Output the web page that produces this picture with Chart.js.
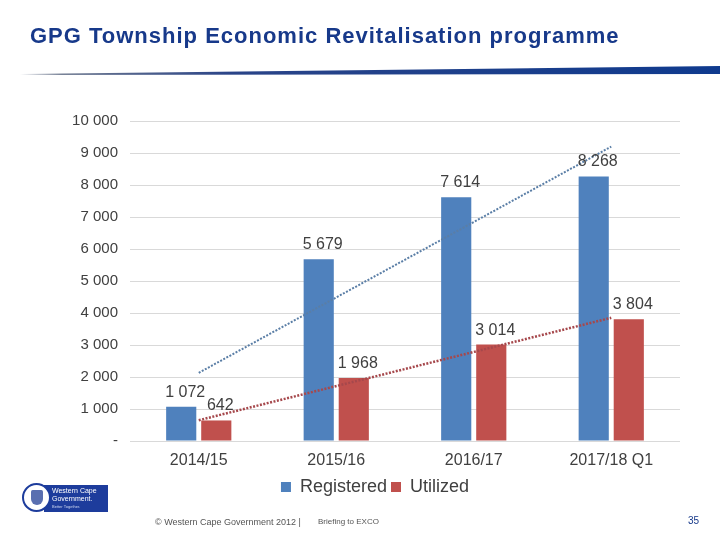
<!DOCTYPE html>
<html>
<head>
<meta charset="utf-8">
<script src="https://cdn.jsdelivr.net/npm/chart.js@4"></script>
<style>
  html, body { margin:0; padding:0; background:#fff; }
  #wrap { position:relative; width:720px; height:540px; overflow:hidden; font-family:"Liberation Sans", Arial, sans-serif; }
  #chart { position:absolute; left:0; top:0; }
  #title { position:absolute; left:30px; top:23px; font-size:22px; letter-spacing:1px; font-weight:bold; color:#17398a; white-space:nowrap; }
  #swoosh { position:absolute; left:20px; top:66px; width:700px; height:10px;
    background:linear-gradient(to right, #ffffff 0%, #6f7a90 6%, #2a4488 30%, #0f3a8e 100%);
    clip-path:polygon(0 8px, 700px 0px, 700px 8px, 0 9px); }
  #logo { position:absolute; left:22px; top:484px; width:86px; height:28px; }
  #logo .box { position:absolute; left:22px; top:1px; width:64px; height:27px; background:#1d3c9c; }
  #logo .t1 { position:absolute; left:30px; top:3px; font-size:7px; line-height:8px; color:#fff; }
  #logo .t2 { position:absolute; left:30px; top:20px; font-size:4px; color:#cfd8f0; }
  #logo .crest { position:absolute; left:0; top:-1px; width:29px; height:29px; border-radius:50%; background:#fff; border:2px solid #1d3c9c; box-sizing:border-box; }
  #logo .crest i { position:absolute; left:7px; top:5px; width:12px; height:15px; background:#5a6fb0; border-radius:2px 2px 7px 7px; }
  .foot { position:absolute; top:517px; font-size:9px; color:#555; white-space:nowrap; }
  #page { position:absolute; left:688px; top:515px; font-size:10px; color:#17398a; }
</style>
</head>
<body>
<div id="wrap">
  <canvas id="chart" width="720" height="540"></canvas>
  <div id="title">GPG Township Economic Revitalisation programme</div>
  <div id="swoosh"></div>
  <div id="logo">
    <div class="box"></div>
    <div class="t1">Western Cape<br>Government.</div>
    <div class="t2">Better Together.</div>
    <div class="crest"><i></i></div>
  </div>
  <div class="foot" style="left:155px">© Western Cape Government 2012 |</div>
  <div class="foot" style="left:318px;font-size:8px">Briefing to EXCO</div>
  <div id="page">35</div>
</div>
<script>
const categories = ['2014/15', '2015/16', '2016/17', '2017/18 Q1'];
const registered = [1072, 5679, 7614, 8268];
const utilized = [642, 1968, 3014, 3804];
// dotted trend lines, end points
const registeredTrend = [2130, null, null, 9200];
const utilizedTrend = [650, null, null, 3850];
const yTicks = [0, 1000, 2000, 3000, 4000, 5000, 6000, 7000, 8000, 9000, 10000];

function fmt(v) {
  if (v === 0) return '-';
  return String(v).replace(/\B(?=(\d{3})+(?!\d))/g, ' ');
}

const barLabels = {
  id: 'barLabels',
  afterLayout(chart) {
    // legend sits centred under the plot, not the whole canvas
    chart.legend.left += 35;
    chart.legend.right += 35;
  },
  afterDatasetsDraw(chart) {
    const c = chart.ctx;
    c.save();
    c.font = '16px "Liberation Sans", Arial, sans-serif';
    c.fillStyle = '#404040';
    c.textAlign = 'center';
    c.textBaseline = 'alphabetic';
    chart.data.datasets.forEach((ds, i) => {
      if (ds.type === 'line') return;
      chart.getDatasetMeta(i).data.forEach((bar, j) => {
        c.fillText(fmt(ds.data[j]), bar.x + 4, bar.y - 10);
      });
    });
    c.restore();
  }
};

const ctx = document.getElementById('chart').getContext('2d');
const chart = new Chart(ctx, {
  type: 'bar',
  data: {
    labels: categories,
    datasets: [
      {
        label: 'Registered',
        data: registered,
        backgroundColor: '#4f81bd',
        order: 2,
        barPercentage: 0.86,
        categoryPercentage: 0.51
      },
      {
        label: 'Utilized',
        data: utilized,
        backgroundColor: '#c0504d',
        order: 2,
        barPercentage: 0.86,
        categoryPercentage: 0.51
      },
      {
        type: 'line',
        label: 'trend1',
        data: registeredTrend,
        borderColor: '#5a7ea6',
        borderWidth: 2,
        borderDash: [2, 1.5],
        pointRadius: 0,
        spanGaps: true,
        fill: false,
        order: 0
      },
      {
        type: 'line',
        label: 'trend2',
        data: utilizedTrend,
        borderColor: '#a6484c',
        borderWidth: 2.5,
        borderDash: [2, 1.5],
        pointRadius: 0,
        spanGaps: true,
        fill: false,
        order: 0
      }
    ]
  },
  options: {
    responsive: false,
    animation: false,
    layout: { padding: { top: 121, left: 0, right: 40, bottom: 34 } },
    plugins: {
      tooltip: { enabled: false },
      legend: {
        position: 'bottom',
        labels: {
          filter: item => item.text === 'Registered' || item.text === 'Utilized',
          boxWidth: 10,
          boxHeight: 10,
          padding: 4,
          color: '#404040',
          font: { size: 18, family: '"Liberation Sans", Arial, sans-serif' }
        }
      }
    },
    scales: {
      x: {
        grid: { display: false, drawTicks: false },
        border: { display: false },
        ticks: {
          padding: 10,
          color: '#404040',
          font: { size: 16, family: '"Liberation Sans", Arial, sans-serif' }
        },
        afterFit(s) { s.height = 33; }
      },
      y: {
        min: 0,
        max: 10000,
        afterBuildTicks(s) { s.ticks = yTicks.map(v => ({ value: v })); },
        grid: { color: '#d9d9d9', drawTicks: false },
        border: { display: false },
        ticks: {
          padding: 12,
          color: '#404040',
          font: { size: 15, family: '"Liberation Sans", Arial, sans-serif' },
          callback: v => fmt(v)
        },
        afterFit(s) { s.width = 130; }
      }
    }
  },
  plugins: [barLabels]
});
</script>
</body>
</html>
